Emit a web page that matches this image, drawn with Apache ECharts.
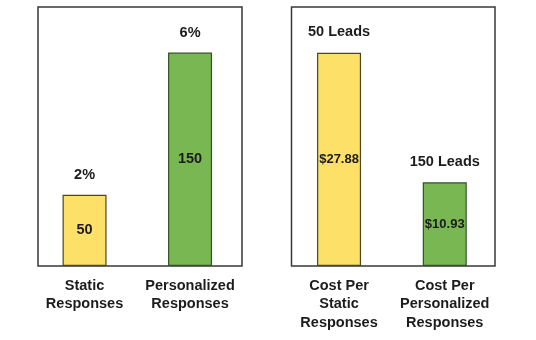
<!DOCTYPE html>
<html>
<head>
<meta charset="utf-8">
<script src="https://cdn.jsdelivr.net/npm/echarts@6/dist/echarts.min.js"></script>
<style>
  html, body { margin: 0; padding: 0; background: #fff; }
  #chart { width: 536px; height: 340px; }
</style>
</head>
<body>
<div id="chart"></div>
<script>
// Response volume: static vs personalized mailers
const responseCategories = ['Static\nResponses', 'Personalized\nResponses'];
const responseCounts = [50, 150];
const responseRates = ['2%', '6%'];

// Cost per response for each approach
const costCategories = ['Cost Per\nStatic\nResponses', 'Cost Per\nPersonalized\nResponses'];
const costPerResponse = [27.88, 10.93];
const leadLabels = ['50 Leads', '150 Leads'];

const barColors = ['#fde068', '#79b752'];
const barBorders = ['#4d4526', '#33502a'];

const FONT = "'Liberation Sans', Arial, Helvetica, sans-serif";
const NARROW = "'Liberation Sans Narrow', 'Arial Narrow', 'Liberation Sans', sans-serif";
const INK = '#1c1c1c';

function styled(values) {
  return values.map((v, i) => ({
    value: v,
    itemStyle: { color: barColors[i], borderColor: barBorders[i], borderWidth: 1.2 }
  }));
}

function catAxis(gridIndex, data) {
  return {
    type: 'category', gridIndex, data,
    axisLine: { show: false }, axisTick: { show: false },
    axisLabel: {
      margin: 10.5, color: INK, fontFamily: FONT, fontWeight: 'bold',
      fontSize: 14.5, lineHeight: 18.5, interval: 0
    }
  };
}

function valAxis(gridIndex, max) {
  return {
    type: 'value', gridIndex, min: 0, max,
    axisLine: { show: false }, axisTick: { show: false },
    axisLabel: { show: false }, splitLine: { show: false }
  };
}

const chart = echarts.init(document.getElementById('chart'), null, { renderer: 'canvas' });

chart.setOption({
  backgroundColor: '#ffffff',
  animation: false,
  grid: [
    // framed panels
    { left: 38, top: 7, width: 204, height: 259, show: true, borderColor: '#383838', borderWidth: 1.5, backgroundColor: '#fff', z: 0 },
    { left: 291.5, top: 7, width: 203.5, height: 259, show: true, borderColor: '#383838', borderWidth: 1.5, backgroundColor: '#fff', z: 0 },
    // plotting areas for the bars
    { left: 31.8, top: 7, width: 211, height: 259 },
    { left: 286.2, top: 7, width: 211.4, height: 259 }
  ],
  xAxis: [
    catAxis(2, responseCategories),
    catAxis(3, costCategories)
  ],
  yAxis: [
    valAxis(2, 182),
    valAxis(3, 33.85)
  ],
  series: [
    {
      type: 'bar', xAxisIndex: 0, yAxisIndex: 0, barWidth: 44,
      data: styled(responseCounts),
      label: {
        show: true, position: 'inside', color: INK,
        fontFamily: FONT, fontWeight: 'bold', fontSize: 14.5
      }
    },
    {
      type: 'bar', xAxisIndex: 0, yAxisIndex: 0, barWidth: 44, barGap: '-100%',
      data: responseCounts,
      itemStyle: { color: 'transparent' },
      label: {
        show: true, position: 'top', distance: 11, color: INK,
        fontFamily: FONT, fontWeight: 'bold', fontSize: 14.5, lineHeight: 17,
        formatter: p => responseRates[p.dataIndex]
      }
    },
    {
      type: 'bar', xAxisIndex: 1, yAxisIndex: 1, barWidth: 44,
      data: styled(costPerResponse),
      label: {
        show: true, position: 'inside', color: INK,
        fontFamily: NARROW, fontWeight: 'bold', fontSize: 13,
        formatter: p => '$' + p.value.toFixed(2)
      }
    },
    {
      type: 'bar', xAxisIndex: 1, yAxisIndex: 1, barWidth: 44, barGap: '-100%',
      data: costPerResponse,
      itemStyle: { color: 'transparent' },
      label: {
        show: true, position: 'top', distance: 12, color: INK,
        fontFamily: FONT, fontWeight: 'bold', fontSize: 14.5, lineHeight: 17,
        formatter: p => leadLabels[p.dataIndex]
      }
    }
  ]
});
</script>
</body>
</html>
